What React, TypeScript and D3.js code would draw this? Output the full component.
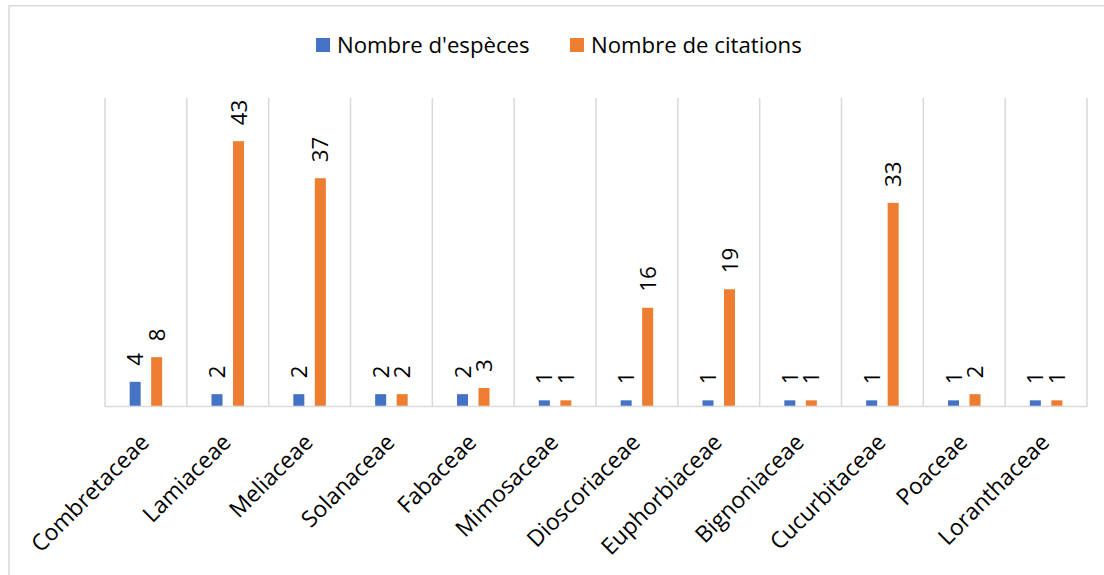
import React from "react";
import * as d3 from "d3";

const categories = [
  "Combretaceae", "Lamiaceae", "Meliaceae", "Solanaceae", "Fabaceae", "Mimosaceae",
  "Dioscoriaceae", "Euphorbiaceae", "Bignoniaceae", "Cucurbitaceae", "Poaceae", "Loranthaceae",
];
const especes = [4, 2, 2, 2, 2, 1, 1, 1, 1, 1, 1, 1];
const citations = [8, 43, 37, 2, 3, 1, 16, 19, 1, 33, 2, 1];
const seriesNames = ["Nombre d'espèces", "Nombre de citations"];
const colors = ["#4472C4", "#ED7D31"];

const W = 1104, H = 575;
const FONT = "'Open Sans', 'Noto Sans', sans-serif";

export default function App() {
  const left = 105, right = 1087, top = 98, bottom = 406.5;
  const x = d3.scaleBand<string>().domain(categories).range([left, right]).padding(0);
  const y = d3.scaleLinear().domain([0, 50]).range([bottom, top]);
  const x1 = d3.scaleBand<number>().domain([0, 1]).range([-16.25, 16.25]).paddingInner(0.488);
  const series = [especes, citations];
  const bounds = categories.map((c) => x(c)!).concat([right]);

  return (
    <svg width={W} height={H} style={{ position: "absolute", left: 0, top: 0, background: "#fff" }}>
      <rect x={0} y={0} width={W} height={H} fill="#fff" />
      <path d={`M9,${H + 2} V5.8 H${W + 2}`} fill="none" stroke="#d9d9d9" strokeWidth={1.5} />
      {/* legend */}
      <g fontFamily={FONT} fontSize={22.2} fill="#000">
        <rect x={316} y={38} width={14} height={14} fill={colors[0]} />
        <text x={337} y={53}>{seriesNames[0]}</text>
        <rect x={570} y={38} width={14} height={14} fill={colors[1]} />
        <text x={591} y={53}>{seriesNames[1]}</text>
      </g>
      {/* gridlines */}
      {bounds.map((b, i) => (
        <line key={i} x1={b} x2={b} y1={top} y2={bottom} stroke="#d9d9d9" strokeWidth={1.5} />
      ))}
      <line x1={left} x2={right} y1={bottom} y2={bottom} stroke="#d9d9d9" strokeWidth={1.5} />
      {/* bars */}
      {categories.map((c, i) => {
        const cx = x(c)! + x.bandwidth() / 2;
        return (
          <g key={c}>
            {series.map((s, k) => {
              const bx = cx + x1(k)!;
              const by = y(s[i]);
              return (
                <g key={k}>
                  <rect x={bx} y={by} width={x1.bandwidth()} height={bottom - 0.75 - by} fill={colors[k]} />
                  <text
                    transform={`translate(${bx + x1.bandwidth() / 2},${by - 16}) rotate(-90)`}
                    dy="0.36em"
                    fontFamily={FONT}
                    fontSize={22.3}
                    fill="#000"
                  >
                    {s[i]}
                  </text>
                </g>
              );
            })}
            <text
              transform={`translate(${cx - 1},${438}) rotate(-45)`}
              textAnchor="end"
              dy="0.35em"
              fontFamily={FONT}
              fontSize={22.8}
              fill="#000"
            >
              {c}
            </text>
          </g>
        );
      })}
    </svg>
  );
}
